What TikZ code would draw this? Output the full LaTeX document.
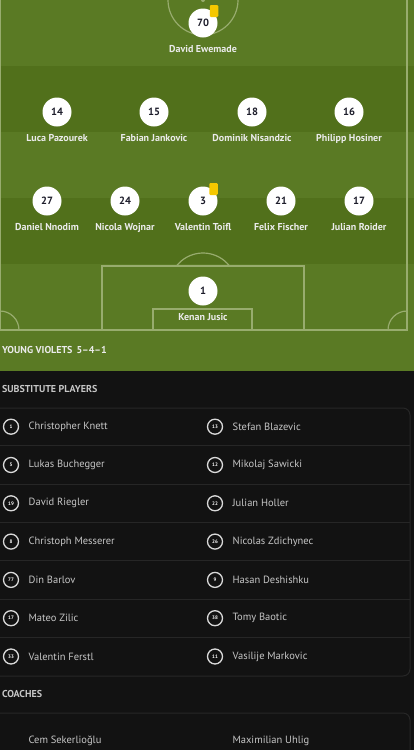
\documentclass[tikz,border=0pt]{standalone}
\usepackage{fontspec}
\setmainfont{PT Sans}
\usepackage{tikz}
\usetikzlibrary{positioning}
\definecolor{pitchlight}{HTML}{5A7A24}
\definecolor{pitchdark}{HTML}{51701B}
\definecolor{pitchline}{HTML}{98AC6E}
\definecolor{panel}{HTML}{121212}
\definecolor{rowline}{HTML}{262626}
\definecolor{shirtno}{HTML}{1C1C2A}
\definecolor{subtext}{HTML}{C6C6C6}
\definecolor{cardyellow}{HTML}{F5C800}
\tikzstyle{player} = [circle,fill=white,minimum size=29pt,inner sep=0pt,font=\bfseries\fontsize{10.5}{10.5}\selectfont,text=shirtno]
\tikzstyle{pname} = [font=\bfseries\fontsize{10}{10}\selectfont,text=white!92!black]
\tikzstyle{card} = [fill=cardyellow,rounded corners=1.2pt,minimum width=8.5pt,minimum height=12pt,inner sep=0pt]
\tikzstyle{subno} = [circle,draw=white!85!black,line width=1.3pt,minimum size=15pt,inner sep=0pt,font=\bfseries\fontsize{5}{5}\selectfont,text=white]
\tikzstyle{subname} = [anchor=west,font=\fontsize{10.5}{10.5}\selectfont,text=subtext]
\tikzstyle{heading} = [anchor=west,font=\bfseries\fontsize{10}{10}\selectfont,text=subtext]
\tikzstyle{box} = [draw=rowline,line width=1pt,rounded corners=7pt]

\begin{document}
\begin{tikzpicture}[x=1pt,y=-1pt]
		\useasboundingbox (0,0) rectangle (414,750);
		% Background: dark panel, pitch on top with mowing stripes
		\fill[panel] (0,0) rectangle (414,750);
		\fill[pitchlight] (0,0) rectangle (414,371);
		\foreach \s in {66,198}{%
			\fill[pitchdark] (0,\s) rectangle (414,\s+66);
		}
		
		% Pitch markings
		\begin{scope}[draw=pitchline,line width=1.2pt]
		\draw (0.6,0) -- (0.6,330) -- (407,330) -- (407,0);
		\draw (203,0) circle (35pt);
		\fill[pitchline] (203,0) circle (2pt);
		% penalty box, goal area and arc
		\draw (102,330) -- (102,266) -- (304,266) -- (304,330);
		\draw (153,330) -- (153,309) -- (252,309) -- (252,330);
		\begin{scope}
		\clip (160,240) rectangle (250,266);
		\draw (203,286.5) circle (33.5pt);
		\end{scope}
		% corner arcs
		\draw (19,330) arc[start angle=0,end angle=90,radius=19pt];
		\draw (388,330) arc[start angle=180,end angle=90,radius=19pt];
		\end{scope}
		
		% Starting eleven: x/y/number/name
		\foreach \x/\y/\n/\nm in {203/23/70/David Ewemade,
			57/112/14/Luca Pazourek,154/112/15/Fabian Jankovic,252/112/18/Dominik Nisandzic,349/112/16/Philipp Hosiner,
			47/201/27/Daniel Nnodim,125/201/24/Nicola Wojnar,203/201/3/Valentin Toifl,281/201/21/Felix Fischer,359/201/17/Julian Roider,
			203/291/1/Kenan Jusic}{%
			\node[player] (p\n) at (\x,\y) {\n};
			\node[pname,below=4pt of p\n] (n\n) {\nm};
		}
		% Yellow cards
		\node[card] (card70) at (214,11) {};
		\node[card] (card3) at (213.5,189) {};
		
		\node[heading,text=white!92!black] (team) at (-1.5,350) {YOUNG VIOLETS\hspace{4pt}5–4–1};
		
		% Substitutes
		\node[heading] (subs) at (-1.5,389) {SUBSTITUTE PLAYERS};
		\draw[box] (-10,408) rectangle (410,676);
		\foreach \i in {1,...,6}{%
			\draw[rowline,line width=0.8pt] (0,{407.5+\i*38.3}) -- (410,{407.5+\i*38.3});
		}
		\foreach \n/\nm [count=\i] in {1/Christopher Knett,5/Lukas Buchegger,19/David Riegler,8/Christoph Messerer,77/Din Barlov,17/Mateo Zilic,33/Valentin Ferstl}{%
			\node[subno] (sl\i) at (11,{388.4+\i*38.3}) {\n};
			\node[subname,right=6pt of sl\i] (sln\i) {\nm};
		}
		\foreach \n/\nm [count=\i] in {13/Stefan Blazevic,12/Mikolaj Sawicki,22/Julian Holler,26/Nicolas Zdichynec,9/Hasan Deshishku,38/Tomy Baotic,11/Vasilije Markovic}{%
			\node[subno] (sr\i) at (215,{388.4+\i*38.3}) {\n};
			\node[subname,right=6pt of sr\i] (srn\i) {\nm};
		}
		
		% Coaches
		\node[heading] (coaches) at (-1.5,694) {COACHES};
		\draw[box] (-10,713) rectangle (410,775);
		\node[subname] (coach1) at (25,741) {Cem Sekerlioğlu};
		\node[subname] (coach2) at (229,741) {Maximilian Uhlig};
\end{tikzpicture}
\end{document}
